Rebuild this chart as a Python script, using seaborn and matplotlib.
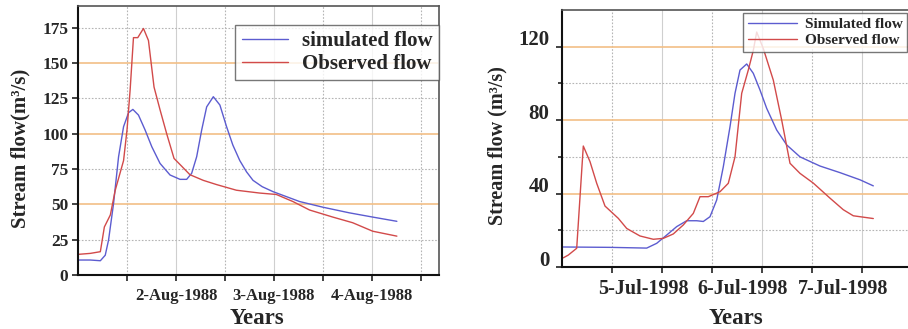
import matplotlib
matplotlib.use("Agg")
import matplotlib.pyplot as plt
import matplotlib.transforms as mtrans
import numpy as np
import pandas as pd
import seaborn as sns

# ---------------- data (days; left: day-of-Aug-1988, right: day-of-Jul-1998) -------------
left_sim_day = [1.0, 1.126, 1.228, 1.278, 1.312, 1.363, 1.414, 1.465, 1.516, 1.560, 1.617,
                1.685, 1.753, 1.837, 1.939, 2.041, 2.109, 2.160, 2.211, 2.262, 2.313, 2.381,
                2.448, 2.516, 2.580, 2.651, 2.720, 2.786, 2.880, 2.990, 3.261, 3.498, 3.769,
                4.007, 4.254]
left_sim_flow = [10.6, 10.6, 10.1, 14, 24.8, 50.7, 83.7, 105, 114.9, 117.2, 113.2,
                 102.6, 90.8, 79, 70.8, 67.7, 67.7, 72, 83.7, 102.6, 119, 126.2,
                 120.3, 105, 92, 81, 73, 67, 62.5, 59, 52, 48, 44,
                 41, 38]
left_obs_day = [1.0, 1.126, 1.228, 1.269, 1.330, 1.380, 1.465, 1.500, 1.532, 1.566, 1.610,
                1.668, 1.719, 1.776, 1.837, 1.905, 1.980, 2.058, 2.142, 2.278, 2.414, 2.617,
                2.854, 3.024, 3.193, 3.363, 3.600, 3.803, 4.007, 4.254]
left_obs_flow = [14.6, 15.3, 16.5, 34, 42.5, 60, 81, 102.6, 131, 168, 168,
                 174.5, 166, 133, 117, 100, 82.5, 77, 71, 67, 64, 60,
                 58, 57, 52, 46, 41, 37, 31, 27.5]

right_sim_day = [4.013, 4.48, 4.847, 4.947, 5.047, 5.147, 5.247, 5.347, 5.413, 5.48, 5.547,
                 5.613, 5.68, 5.73, 5.78, 5.847, 5.913, 5.98, 6.047, 6.147, 6.247, 6.38,
                 6.58, 6.78, 6.98, 7.113]
right_sim_flow = [10.9, 10.7, 10.3, 12.9, 17.4, 22, 25.2, 25.2, 24.8, 27.4, 36.5,
                  54.6, 76.4, 94.6, 107.3, 110.6, 105.5, 96.4, 86.4, 74.6, 66.5, 60,
                  55, 51.4, 47.5, 44.2]
right_obs_day = [4.013, 4.063, 4.147, 4.213, 4.28, 4.347, 4.43, 4.563, 4.647, 4.78, 4.913,
                 5.013, 5.113, 5.213, 5.313, 5.38, 5.463, 5.58, 5.663, 5.73, 5.797, 5.863,
                 5.913, 5.947, 6.013, 6.113, 6.197, 6.28, 6.38, 6.513, 6.68, 6.813, 6.913,
                 7.113]
right_obs_flow = [5.0, 6.5, 10.2, 65.9, 57.4, 45.6, 33.2, 26.5, 21, 16.9, 15.1,
                  15.6, 18, 22.9, 29.2, 38.3, 38.3, 41, 45.6, 60, 94.6, 107.3,
                  118, 128, 119, 101.8, 80, 56.5, 51, 45.7, 37.5, 31.2, 27.9,
                  26.4]

left_series = ["simulated flow", "Observed flow"]
right_series = ["Simulated flow", "Observed flow"]
left_xticks = [2, 3, 4]
left_xlabels = ["2-Aug-1988", "3-Aug-1988", "4-Aug-1988"]
right_xticks = [5, 6, 7]
right_xlabels = ["5-Jul-1998", "6-Jul-1998", "7-Jul-1998"]
left_yticks = [0, 25, 50, 75, 100, 125, 150, 175]
right_yticks = [0, 40, 80, 120]
right_yminor = [20, 60, 100]

# ---------------- style ----------------
sns.set_style("ticks")
plt.rcParams["font.family"] = ["Liberation Serif", "DejaVu Serif"]
plt.rcParams["font.weight"] = "bold"

BLUE = "#5c5cd0"
RED = "#d24a4a"
ORANGE = "#f2bf86"

fig = plt.figure(figsize=(9.08, 3.29), dpi=100)
W, H = 908, 329
ax1 = fig.add_axes([78 / W, 1 - 275 / H, 361 / W, 269 / H])
ax2 = fig.add_axes([562 / W, 1 - 267 / H, 356 / W, 257 / H])

df1 = pd.concat([
    pd.DataFrame({"day": left_sim_day, "flow": left_sim_flow, "series": left_series[0]}),
    pd.DataFrame({"day": left_obs_day, "flow": left_obs_flow, "series": left_series[1]}),
])
df2 = pd.concat([
    pd.DataFrame({"day": right_sim_day, "flow": right_sim_flow, "series": right_series[0]}),
    pd.DataFrame({"day": right_obs_day, "flow": right_obs_flow, "series": right_series[1]}),
])

sns.lineplot(data=df1, x="day", y="flow", hue="series", estimator=None,
             palette={left_series[0]: BLUE, left_series[1]: RED}, linewidth=1.0, ax=ax1)
sns.lineplot(data=df2, x="day", y="flow", hue="series", estimator=None,
             palette={right_series[0]: BLUE, right_series[1]: RED}, linewidth=1.0, ax=ax2)


def style_axes(ax, xticks, xlabels, xlim, tickfs):
    ax.set_xlim(*xlim)
    ax.set_xticks(xticks, labels=xlabels)
    halves = [t + 0.5 for t in range(int(xlim[0]), int(xlim[1]) + 1) if xlim[0] < t + 0.5 < xlim[1]]
    ax.set_xticks(halves, minor=True)
    ax.set_xlabel("")
    ax.set_ylabel("")
    ax.xaxis.grid(True, which="major", color="#cfcfcf", linestyle="-", linewidth=0.8)
    ax.xaxis.grid(True, which="minor", color="#b5b5b5", linestyle=(0, (1.5, 1.5)), linewidth=0.8)
    ax.tick_params(axis="both", which="both", direction="out", length=4, width=1.2,
                   color="#222222", labelsize=tickfs)
    ax.tick_params(axis="x", which="both", pad=5)
    for lab in ax.get_xticklabels() + ax.get_yticklabels() + ax.get_yticklabels(minor=True):
        lab.set_fontweight("bold")
    for s in ["left", "bottom"]:
        ax.spines[s].set_color("#111111")
        ax.spines[s].set_linewidth(1.5)
    for s in ["top", "right"]:
        ax.spines[s].set_visible(True)
        ax.spines[s].set_color("#555555")
        ax.spines[s].set_linewidth(1.2)
    ax.set_axisbelow(True)


# left panel
style_axes(ax1, left_xticks, left_xlabels, (1.0, 4.684), 12)
ax1.set_ylim(0, 190.4)
ax1.set_yticks([v for v in left_yticks if v % 50 == 0],
               labels=[str(v) for v in left_yticks if v % 50 == 0])
ax1.set_yticks([v for v in left_yticks if v % 50 != 0],
               labels=[str(v) for v in left_yticks if v % 50 != 0], minor=True)
ax1.tick_params(axis="y", which="both", labelsize=12.5, length=4, pad=3)
for lab in ax1.get_yticklabels() + ax1.get_yticklabels(minor=True):
    lab.set_fontweight("bold")
ax1.yaxis.grid(True, which="major", color=ORANGE, linestyle="-", linewidth=1.2)
ax1.yaxis.grid(True, which="minor", color="#b5b5b5", linestyle=(0, (1.5, 1.5)), linewidth=0.8)

leg1 = ax1.legend(loc="upper right", bbox_to_anchor=(1.0, 0.929), frameon=True,
                  fancybox=False, prop={"family": "Liberation Serif", "weight": "bold", "size": 15},
                  handlelength=2.2, handletextpad=0.7, labelspacing=0.12, borderpad=0.3,
                  borderaxespad=0.0)
leg1.get_frame().set_edgecolor("#555555")
leg1.get_frame().set_linewidth(1.0)
for l in leg1.get_lines():
    l.set_linewidth(1.0)

# right panel
style_axes(ax2, right_xticks, right_xlabels, (4.0, 7.56), 14.5)
ax2.set_ylim(0, 140)
ax2.set_yticks(right_yticks, labels=[str(v) for v in right_yticks])
ax2.set_yticks(right_yminor, minor=True)
ax2.tick_params(axis="y", which="major", labelsize=15, length=4, pad=5)
ax2.tick_params(axis="y", which="minor", length=3)
ax2.yaxis.grid(True, which="major", color=ORANGE, linestyle="-", linewidth=1.2)
ax2.yaxis.grid(True, which="minor", color="#b5b5b5", linestyle=(0, (1.5, 1.5)), linewidth=0.8)
yoff = mtrans.ScaledTranslation(0, 0.09, fig.dpi_scale_trans)
for lab in ax2.get_yticklabels():
    lab.set_transform(lab.get_transform() + yoff)
    lab.set_fontweight("bold")
xoff = mtrans.ScaledTranslation(-0.19, 0, fig.dpi_scale_trans)
for lab in ax2.get_xticklabels():
    lab.set_transform(lab.get_transform() + xoff)

leg2 = ax2.legend(loc="upper right", bbox_to_anchor=(0.969, 0.988), frameon=True,
                  fancybox=False, prop={"family": "Liberation Serif", "weight": "bold", "size": 11},
                  handlelength=3.2, handletextpad=0.5, labelspacing=0.15, borderpad=0.3,
                  borderaxespad=0.0)
leg2.get_frame().set_edgecolor("#555555")
leg2.get_frame().set_linewidth(1.0)
for l in leg2.get_lines():
    l.set_linewidth(1.0)

# axis titles
fig.text(20 / W, 1 - 148.5 / H, "Stream flow(m³/s)", rotation=90, ha="center", va="center",
         fontsize=15, fontweight="bold")
fig.text(257 / W, 1 - 318 / H, "Years", ha="center", va="center", fontsize=16.5, fontweight="bold")
fig.text(497 / W, 1 - 146 / H, "Stream flow (m³/s)", rotation=90, ha="center", va="center",
         fontsize=14.5, fontweight="bold")
fig.text(736 / W, 1 - 318 / H, "Years", ha="center", va="center", fontsize=16.5, fontweight="bold")

fig.savefig("out.png", dpi=100)
